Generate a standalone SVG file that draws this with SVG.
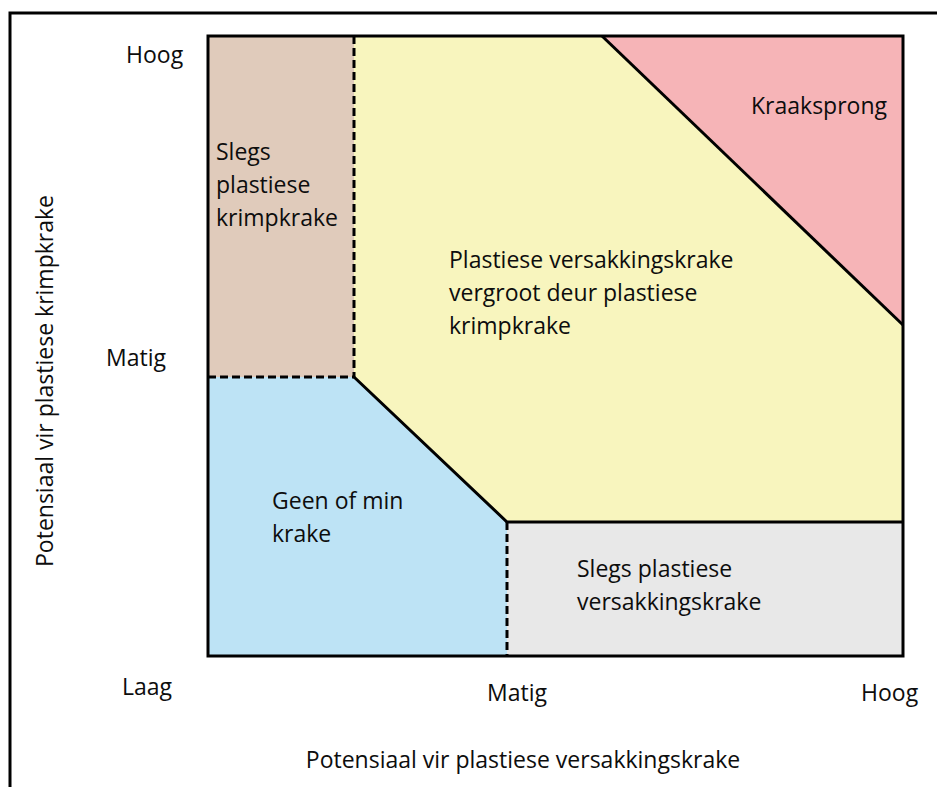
<svg xmlns="http://www.w3.org/2000/svg" width="937" height="787" viewBox="0 0 937 787">
<style>
text{font-family:"Open Sans","Noto Sans","Liberation Sans",sans-serif;font-size:23px;fill:#0d0d0d;}
.solid{stroke:#000;stroke-width:3;fill:none;stroke-linejoin:miter;}
.dash{stroke:#000;stroke-width:3;fill:none;stroke-dasharray:8 4;}
</style>
<rect x="0" y="0" width="937" height="787" fill="#fff"/>
<path d="M10,787 V13 H937" fill="none" stroke="#000" stroke-width="3"/>
<g id="regions">
<g id="brown"><polygon points="208,36 354,36 354,377 208,377" fill="#E0CBBB"/></g>
<g id="yellow"><polygon points="354,36 602,36 903,325 903,522 507,522 354,377" fill="#F8F5BE"/></g>
<g id="red"><polygon points="602,36 903,36 903,325" fill="#F6B4B7"/></g>
<g id="blue"><polygon points="208,377 354,377 507,522 507,656 208,656" fill="#BDE3F5"/></g>
<g id="gray"><polygon points="507,522 903,522 903,656 507,656" fill="#E8E8E8"/></g>
</g>
<g id="connectors">
<rect class="solid" x="208" y="36" width="695" height="620"/>
<path class="solid" d="M602,36 L903,325"/>
<path class="solid" d="M354,377 L507,522 H903"/>
<path class="dash" d="M354,36 V377"/>
<path class="dash" d="M208,377 H354"/>
<path class="dash" d="M507,522 V656"/>
</g>
<g id="labels">
<text x="216" y="160">Slegs</text>
<text x="216" y="193">plastiese</text>
<text x="216" y="226">krimpkrake</text>
<text x="751" y="114">Kraaksprong</text>
<text x="449" y="268">Plastiese versakkingskrake</text>
<text x="449" y="301">vergroot deur plastiese</text>
<text x="449" y="334">krimpkrake</text>
<text x="272" y="509">Geen of min</text>
<text x="272" y="542">krake</text>
<text x="577" y="577">Slegs plastiese</text>
<text x="577" y="610">versakkingskrake</text>
</g>
<g id="axes">
<text x="126" y="63">Hoog</text>
<text x="106" y="366">Matig</text>
<text x="122" y="695">Laag</text>
<text x="487" y="701">Matig</text>
<text x="861" y="701">Hoog</text>
<text x="523" y="768" text-anchor="middle">Potensiaal vir plastiese versakkingskrake</text>
<text transform="translate(53,381) rotate(-90)" text-anchor="middle">Potensiaal vir plastiese krimpkrake</text>
</g>
</svg>
